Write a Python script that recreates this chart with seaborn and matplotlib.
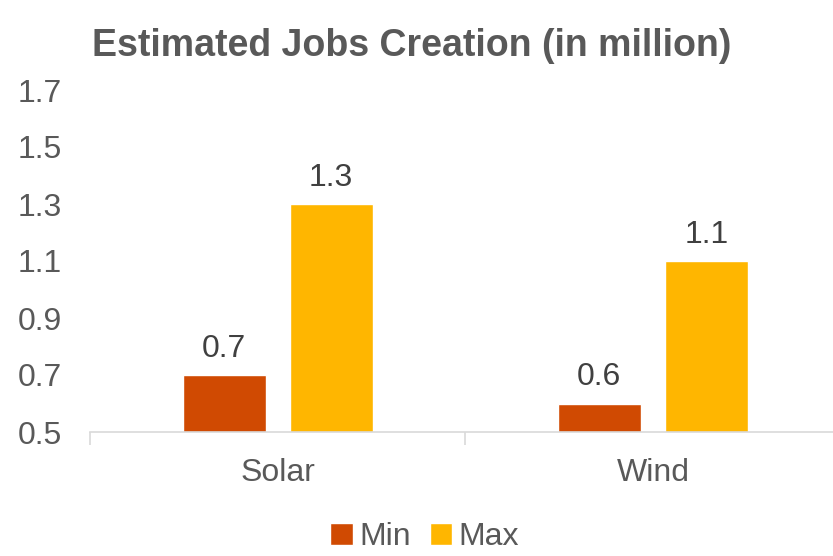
import matplotlib
matplotlib.use("Agg")
import matplotlib.pyplot as plt
import seaborn as sns
import pandas as pd

categories = ["Solar", "Wind"]
series = ["Min", "Max"]
min_values = [0.7, 0.6]
max_values = [1.3, 1.1]
yticks = [0.5, 0.7, 0.9, 1.1, 1.3, 1.5, 1.7]
colors = ["#D04A02", "#FFB600"]

df = pd.DataFrame({
    "Category": categories * 2,
    "Series": [series[0]] * len(categories) + [series[1]] * len(categories),
    "Value": min_values + max_values,
})

sns.set_theme(style="white")
plt.rcParams["font.family"] = ["Liberation Sans", "DejaVu Sans"]
grey = "#595959"
fs = 23

fig = plt.figure(figsize=(8.33, 5.56), dpi=100)
ax = fig.add_axes([90 / 833, 1 - 432 / 556, 1 - 90 / 833, (432 - 90) / 556])

sns.barplot(data=df, x="Category", y="Value", hue="Series", order=categories,
            hue_order=series, palette=colors, width=0.571, gap=0.226,
            saturation=1, ax=ax, legend=True)

for cont in ax.containers:
    ax.bar_label(cont, labels=[f"{v:.1f}" for v in cont.datavalues],
                 padding=8, fontsize=fs, color="#404040")

ax.set_ylim(0.5, 1.7)
ax.set_xlim(-0.5, 1.48)
ax.set_yticks(yticks)
ax.set_yticklabels([f"{t:.1f}" for t in yticks])
ax.set_xlabel("")
ax.set_ylabel("")
for s in ["top", "right", "left"]:
    ax.spines[s].set_visible(False)
ax.spines["bottom"].set_color("#D9D9D9")
ax.spines["bottom"].set_linewidth(1.2)
ax.tick_params(axis="y", length=0, labelsize=fs, labelcolor=grey, pad=20)
ax.tick_params(axis="x", which="major", length=0, labelsize=fs, labelcolor=grey, pad=19)
ax.set_xticks([-0.5, 0.5], minor=True)
ax.tick_params(axis="x", which="minor", bottom=True, length=9, color="#D9D9D9", width=1.2)

handles, labels = ax.get_legend_handles_labels()
ax.get_legend().remove()
fig.legend(handles, labels, loc="lower center", bbox_to_anchor=(0.51, -0.045),
           ncol=2, frameon=False, fontsize=fs, handlelength=0.7, handleheight=0.7,
           handletextpad=0.2, columnspacing=0.6, labelcolor=grey)

fig.text(0.494, 1 - 46 / 556, "Estimated Jobs Creation (in million)", ha="center",
         va="center", fontsize=27, fontweight="bold", color=grey)

fig.savefig("out.png", dpi=100)
